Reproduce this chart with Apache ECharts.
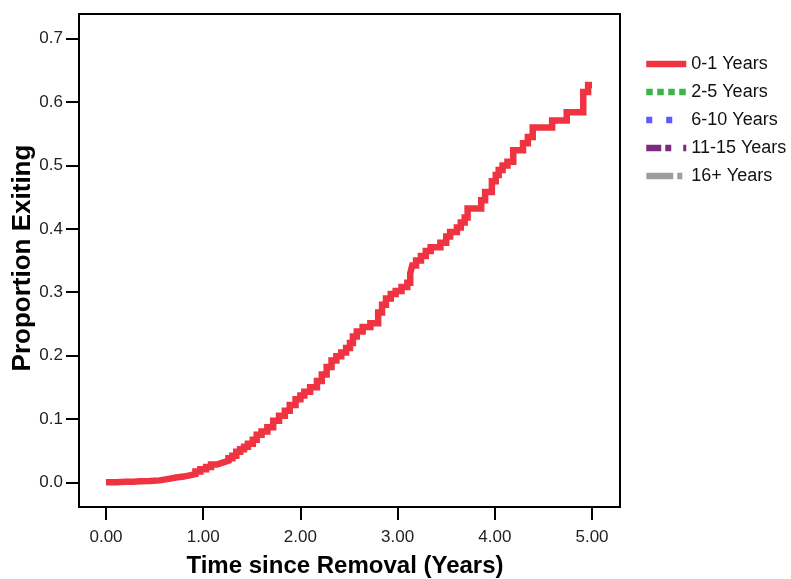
<!DOCTYPE html>
<html>
<head>
<meta charset="utf-8">
<script src="https://cdn.jsdelivr.net/npm/echarts@6/dist/echarts.min.js"></script>
<style>html,body{margin:0;padding:0;background:#fff}#c{width:791px;height:579px}</style>
</head>
<body>
<div id="c"></div>
<script>
// Step points (time in years, proportion exiting) for 0-1 Years group
const times0_1 = [0.00,0.05,0.10,0.15,0.20,0.28,0.35,0.45,0.55,0.63,0.72,0.80,0.86,0.92,0.97,1.03,1.08,1.14,1.20,1.26,1.30,1.34,1.38,1.42,1.46,1.51,1.55,1.60,1.66,1.72,1.78,1.84,1.89,1.95,2.00,2.04,2.10,2.17,2.22,2.27,2.32,2.37,2.42,2.47,2.51,2.54,2.58,2.64,2.72,2.80,2.84,2.88,2.93,2.98,3.04,3.10,3.13,3.15,3.19,3.24,3.29,3.34,3.44,3.50,3.54,3.61,3.65,3.69,3.72,3.86,3.90,3.97,4.01,4.04,4.08,4.13,4.19,4.29,4.34,4.39,4.59,4.74,4.91,4.96,5.00];
const values0_1 = [0.000,0.000,0.0005,0.0008,0.001,0.0016,0.002,0.003,0.005,0.0075,0.009,0.011,0.013,0.017,0.0205,0.024,0.028,0.031,0.034,0.038,0.042,0.048,0.052,0.056,0.061,0.067,0.075,0.080,0.087,0.097,0.105,0.113,0.122,0.131,0.137,0.143,0.150,0.160,0.170,0.182,0.192,0.199,0.205,0.212,0.220,0.230,0.238,0.245,0.251,0.268,0.280,0.290,0.297,0.302,0.308,0.315,0.330,0.342,0.350,0.357,0.365,0.371,0.378,0.388,0.395,0.402,0.410,0.418,0.432,0.445,0.458,0.475,0.485,0.493,0.500,0.506,0.524,0.535,0.545,0.560,0.571,0.584,0.616,0.627,0.627];
const seriesNames = ['0-1 Years','2-5 Years','6-10 Years','11-15 Years','16+ Years'];
const xTicks = [0,1,2,3,4,5];
const yTicks = [0,0.1,0.2,0.3,0.4,0.5,0.6,0.7];

const colors = ['#ef3340','#3cb44b','#5b5bff','#7b2a7d','#9e9e9e'];
const dashes = ['solid',[6.5,4.5],[6,14],[15,4,6,12],[27,4,5,4]];
const font = 'Arial, "Liberation Sans", Helvetica, sans-serif';

const data0 = times0_1.map((t,i)=>[t, values0_1[i]]);

const series = seriesNames.map((name,i)=>({
  name: name,
  type: 'line',
  step: 'end',
  symbol: 'none',
  showSymbol: false,
  data: i === 0 ? data0 : [],
  lineStyle: {color: colors[i], width: 6.5, type: dashes[i], cap: 'butt', join: 'miter'},
  itemStyle: {color: colors[i]},
  animation: false
}));

const chart = echarts.init(document.getElementById('c'), null, {renderer: 'canvas'});
chart.setOption({
  animation: false,
  backgroundColor: '#fff',
  grid: {left: 79, top: 14, width: 541, height: 493, show: true, borderColor: '#000', borderWidth: 2, backgroundColor: 'transparent'},
  xAxis: {
    type: 'value', min: -0.278, max: 5.288,
    axisLine: {show: false, onZero: false},
    splitLine: {show: false},
    axisTick: {show: true, customValues: xTicks, length: 13, lineStyle: {color: '#000', width: 2}},
    axisLabel: {customValues: xTicks, formatter: v => v.toFixed(2), margin: 22, fontSize: 17, color: '#222', fontFamily: font}
  },
  yAxis: {
    type: 'value', min: -0.039, max: 0.739,
    axisLine: {show: false, onZero: false},
    splitLine: {show: false},
    axisTick: {show: true, customValues: yTicks, length: 13, lineStyle: {color: '#000', width: 2}},
    axisLabel: {customValues: yTicks, formatter: v => v.toFixed(1), margin: 16, fontSize: 17, color: '#222', fontFamily: font}
  },
  legend: {
    orient: 'vertical', left: 643, top: 55, padding: 0,
    itemWidth: 40, itemHeight: 14, itemGap: 10,
    data: seriesNames,
    lineStyle: {width: 6.5},
    itemStyle: {opacity: 0},
    textStyle: {fontSize: 18, color: '#111', fontFamily: font},
    selectedMode: false
  },
  graphic: [
    {type: 'text', x: 345, y: 566, style: {text: 'Time since Removal (Years)', font: 'bold 24px ' + font, fill: '#000', align: 'center', verticalAlign: 'middle'}},
    {type: 'text', x: 23, y: 258, rotation: Math.PI/2, style: {text: 'Proportion Exiting', font: 'bold 26px ' + font, fill: '#000', align: 'center', verticalAlign: 'middle'}}
  ],
  series: series
});
</script>
</body>
</html>
